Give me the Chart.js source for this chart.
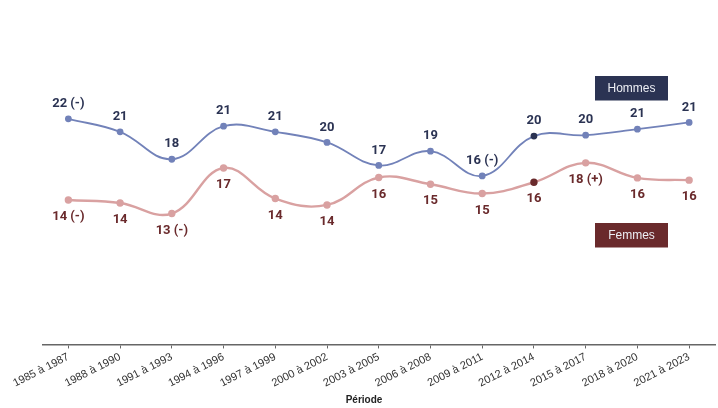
<!DOCTYPE html>
<html>
<head>
<meta charset="utf-8">
<script src="https://cdn.jsdelivr.net/npm/chart.js@4"></script>
<style>
  html, body { margin: 0; padding: 0; background: #fff; }
  #wrap { width: 718px; height: 408px; }
</style>
</head>
<body>
<div id="wrap"><canvas id="chart"></canvas></div>
<script>
// Périodes
const periodes = ['1985 à 1987', '1988 à 1990', '1991 à 1993', '1994 à 1996', '1997 à 1999',
    '2000 à 2002', '2003 à 2005', '2006 à 2008', '2009 à 2011', '2012 à 2014',
    '2015 à 2017', '2018 à 2020', '2021 à 2023'];

// Hommes
const hommes = [21.77, 20.51, 17.87, 21.06, 20.51, 19.49, 17.27, 18.65, 16.26, 20.10, 20.19, 20.77, 21.42];
const hommesLabels = ['22 (-)', '21', '18', '21', '21', '20', '17', '19', '16 (-)', '20', '20', '21', '21'];

// Femmes
const femmes = [13.94, 13.65, 12.63, 17.03, 14.08, 13.46, 16.11, 15.46, 14.56, 15.65, 17.52, 16.07, 15.85];
const femmesLabels = ['14 (-)', '14', '13 (-)', '17', '14', '14', '16', '15', '15', '16', '18 (+)', '16', '16'];

const navy = '#2b3353';
const maroon = '#6a2a2c';
const bleu = '#7282b9';
const rose = '#d9a1a1';

// point de référence (2012 à 2014) plus foncé
const hPoints = periodes.map((p, i) => i === 9 ? navy : bleu);
const fPoints = periodes.map((p, i) => i === 9 ? maroon : rose);

const valueLabels = {
    id: 'valueLabels',
    afterDatasetsDraw(chart) {
        const ctx = chart.ctx;
        ctx.save();
        ctx.font = 'bold 13px Roboto, "Liberation Sans", sans-serif';
        ctx.textAlign = 'center';
        ctx.textBaseline = 'middle';
        chart.data.datasets.forEach((ds, di) => {
            const meta = chart.getDatasetMeta(di);
            meta.data.forEach((pt, i) => {
                ctx.fillStyle = ds.labelColor;
                ctx.fillText(ds.labels[i], pt.x, pt.y + ds.labelOffset);
            });
        });
        ctx.restore();
    }
};

const legendBoxes = {
    id: 'legendBoxes',
    afterDraw(chart) {
        const ctx = chart.ctx;
        const boxes = [
            { text: 'Hommes', color: navy, y: 76 },
            { text: 'Femmes', color: maroon, y: 223 }
        ];
        ctx.save();
        ctx.font = '12px "Liberation Sans", Arial, sans-serif';
        ctx.textAlign = 'center';
        ctx.textBaseline = 'middle';
        boxes.forEach(b => {
            ctx.fillStyle = b.color;
            ctx.fillRect(595, b.y, 73, 24.5);
            ctx.fillStyle = '#eceef4';
            ctx.fillText(b.text, 631.5, b.y + 12.5);
        });
        // titre de l'axe
        ctx.font = 'bold 10px "Liberation Sans", Arial, sans-serif';
        ctx.fillStyle = '#222';
        ctx.fillText('Période', 364, 400);
        ctx.restore();
    }
};

new Chart(document.getElementById('chart'), {
    type: 'line',
    data: {
        labels: periodes,
        datasets: [
            {
                label: 'Hommes',
                data: hommes,
                labels: hommesLabels,
                labelColor: navy,
                labelOffset: -15,
                borderColor: bleu,
                borderWidth: 1.8,
                pointBackgroundColor: hPoints,
                pointBorderColor: hPoints,
                pointRadius: 2.5,
                tension: 0.4
            },
            {
                label: 'Femmes',
                data: femmes,
                labels: femmesLabels,
                labelColor: maroon,
                labelOffset: 17,
                borderColor: rose,
                borderWidth: 2.4,
                pointBackgroundColor: fPoints,
                pointBorderColor: fPoints,
                pointRadius: 2.5,
                tension: 0.4
            }
        ]
    },
    options: {
        responsive: true,
        maintainAspectRatio: false,
        animation: false,
        layout: { autoPadding: false, padding: { top: 33.5, left: 42.5, right: 3, bottom: 16 } },
        plugins: {
            legend: { display: false },
            tooltip: { enabled: false }
        },
        scales: {
            x: {
                offset: true,
                afterFit: s => { s.paddingLeft = 0; s.paddingRight = 0; },
                grid: { drawOnChartArea: false, drawTicks: true, tickLength: 4, color: '#666' },
                border: { display: true, color: '#666', width: 1.5 },
                ticks: {
                    minRotation: 27,
                    maxRotation: 27,
                    color: '#333',
                    padding: 2,
                    font: { family: '"Liberation Sans", Arial, sans-serif', size: 11 }
                }
            },
            y: {
                display: false,
                min: 0,
                max: 30
            }
        }
    },
    plugins: [valueLabels, legendBoxes]
});
</script>
</body>
</html>
